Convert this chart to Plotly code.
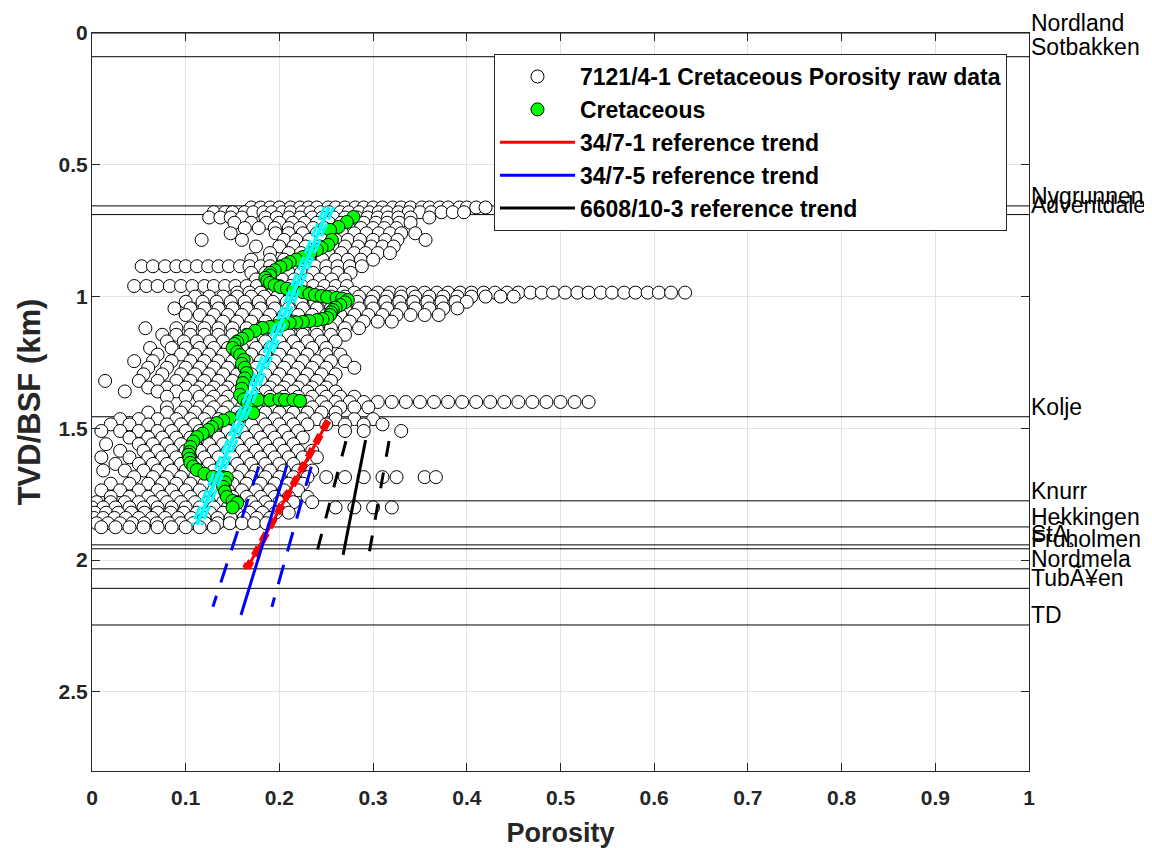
import plotly.graph_objects as go

# formation tops (km below sea floor)
tops_depth = [0.0, 0.09, 0.656, 0.689, 1.456, 1.775, 1.874, 1.942, 1.957, 2.033, 2.107, 2.246]
tops_name = ["Nordland", "Sotbakken", "Nygrunnen", "Adventdalen", "Kolje", "Knurr",
             "Hekkingen", "StÃ¸", "Fruholmen", "Nordmela", "TubÃ¥en", "TD"]

# raw porosity data, read row by row off the log (depth -> porosity values)
raw_depth_rows = [0.662, 0.68, 0.70, 0.72, 0.74, 0.76, 0.785, 0.81, 0.835, 0.86,
                  0.885, 0.91, 0.935, 0.96, 0.985, 1.0, 1.02, 1.045, 1.07, 1.095,
                  1.12, 1.145, 1.17, 1.195, 1.22, 1.245, 1.27, 1.295, 1.32, 1.345,
                  1.36, 1.38, 1.40, 1.42, 1.44, 1.465, 1.485, 1.51, 1.535, 1.56,
                  1.585, 1.61, 1.635, 1.66, 1.685, 1.71, 1.735, 1.76, 1.78, 1.80,
                  1.82, 1.84, 1.86, 1.875]
raw_poro_rows = [
    [0.17, 0.18, 0.19, 0.2, 0.212, 0.222, 0.231, 0.24, 0.252, 0.26, 0.27, 0.281, 0.29, 0.3, 0.31,
     0.321, 0.33, 0.34, 0.352, 0.36, 0.371, 0.38, 0.392, 0.4, 0.41, 0.42],
    [0.13, 0.142, 0.15, 0.163, 0.172, 0.183, 0.192, 0.203, 0.212, 0.224, 0.233, 0.244, 0.253,
     0.265, 0.274, 0.285, 0.296, 0.306, 0.315, 0.327, 0.338, 0.35, 0.362, 0.373, 0.385, 0.397],
    [0.125, 0.137, 0.148, 0.16, 0.185, 0.197, 0.21, 0.222, 0.235, 0.246, 0.258, 0.27, 0.283,
     0.294, 0.305, 0.316, 0.327, 0.34, 0.36],
    [0.152, 0.17, 0.186, 0.2, 0.214, 0.227, 0.24, 0.253, 0.266, 0.279, 0.29, 0.303, 0.315, 0.328, 0.34],
    [0.163, 0.178, 0.195, 0.21, 0.222, 0.236, 0.248, 0.262, 0.274, 0.287, 0.3, 0.312, 0.325],
    [0.148, 0.196, 0.21, 0.225, 0.24, 0.253, 0.267, 0.28, 0.293, 0.306, 0.318, 0.33, 0.345],
    [0.117, 0.16, 0.205, 0.218, 0.232, 0.246, 0.26, 0.273, 0.286, 0.3, 0.313, 0.326, 0.356],
    [0.175, 0.2, 0.215, 0.228, 0.243, 0.257, 0.27, 0.284, 0.298, 0.31, 0.322],
    [0.19, 0.21, 0.223, 0.238, 0.252, 0.266, 0.28, 0.292, 0.305, 0.318],
    [0.17, 0.19, 0.205, 0.218, 0.232, 0.246, 0.26, 0.273, 0.287, 0.3],
    [0.053, 0.065, 0.078, 0.09, 0.1, 0.112, 0.124, 0.135, 0.146, 0.158, 0.168, 0.18, 0.19, 0.202,
     0.214, 0.226, 0.238, 0.25, 0.262, 0.275, 0.288],
    [0.17, 0.185, 0.198, 0.21, 0.223, 0.236, 0.25, 0.262, 0.276],
    [0.175, 0.19, 0.203, 0.216, 0.23, 0.243, 0.256, 0.27],
    [0.045, 0.058, 0.07, 0.083, 0.095, 0.107, 0.12, 0.13, 0.142, 0.153, 0.165, 0.176, 0.188, 0.2,
     0.212, 0.224, 0.236, 0.248, 0.26, 0.272],
    [0.155, 0.168, 0.18, 0.193, 0.205, 0.218, 0.23, 0.243, 0.256, 0.268, 0.28, 0.292, 0.305, 0.318,
     0.33, 0.342, 0.355, 0.368, 0.38, 0.393, 0.405, 0.418, 0.43, 0.443, 0.455, 0.468, 0.48, 0.492,
     0.505, 0.518, 0.53, 0.543, 0.555, 0.568, 0.58, 0.593, 0.605, 0.618, 0.633],
    [0.11, 0.125, 0.14, 0.155, 0.17, 0.184, 0.198, 0.212, 0.226, 0.24, 0.255, 0.27, 0.285, 0.3,
     0.315, 0.33, 0.345, 0.36, 0.375, 0.39, 0.405, 0.42, 0.436, 0.45],
    [0.1, 0.118, 0.133, 0.148, 0.163, 0.178, 0.193, 0.208, 0.223, 0.238, 0.253, 0.268, 0.283, 0.298,
     0.313, 0.328, 0.343, 0.358, 0.373, 0.388, 0.4],
    [0.088, 0.105, 0.12, 0.135, 0.15, 0.165, 0.18, 0.195, 0.21, 0.225, 0.24, 0.255, 0.27, 0.285,
     0.3, 0.315, 0.33, 0.345, 0.36, 0.375, 0.39],
    [0.1, 0.115, 0.13, 0.145, 0.16, 0.175, 0.19, 0.205, 0.22, 0.235, 0.25, 0.265, 0.28, 0.295,
     0.31, 0.325, 0.34, 0.355, 0.37],
    [0.125, 0.14, 0.155, 0.17, 0.185, 0.2, 0.215, 0.23, 0.245, 0.26, 0.275, 0.29, 0.305, 0.32],
    [0.057, 0.09, 0.105, 0.12, 0.135, 0.15, 0.165, 0.18, 0.195, 0.21, 0.225, 0.24, 0.255, 0.27, 0.285],
    [0.075, 0.09, 0.105, 0.12, 0.135, 0.15, 0.165, 0.18, 0.195, 0.21, 0.225, 0.24, 0.255, 0.27],
    [0.08, 0.098, 0.112, 0.126, 0.14, 0.155, 0.17, 0.185, 0.2, 0.215, 0.23, 0.245, 0.26],
    [0.062, 0.085, 0.1, 0.115, 0.13, 0.145, 0.16, 0.175, 0.19, 0.205, 0.22, 0.235, 0.25],
    [0.07, 0.095, 0.11, 0.125, 0.14, 0.155, 0.17, 0.185, 0.2, 0.215, 0.23, 0.25, 0.265],
    [0.045, 0.065, 0.085, 0.105, 0.12, 0.135, 0.15, 0.165, 0.18, 0.195, 0.21, 0.225, 0.24, 0.255, 0.27],
    [0.06, 0.08, 0.1, 0.115, 0.13, 0.145, 0.16, 0.175, 0.19, 0.205, 0.22, 0.235, 0.25, 0.28],
    [0.055, 0.075, 0.095, 0.11, 0.125, 0.14, 0.155, 0.17, 0.185, 0.2, 0.215, 0.23, 0.245, 0.26],
    [0.014, 0.05, 0.07, 0.09, 0.105, 0.12, 0.135, 0.15, 0.165, 0.18, 0.195, 0.21, 0.225, 0.24, 0.255],
    [0.06, 0.08, 0.1, 0.115, 0.13, 0.145, 0.16, 0.175, 0.19, 0.205, 0.22, 0.235, 0.25],
    [0.035, 0.07, 0.09, 0.11, 0.125, 0.14, 0.155, 0.17, 0.185, 0.2, 0.215, 0.23, 0.245, 0.26],
    [0.08, 0.1, 0.115, 0.13, 0.145, 0.16, 0.175, 0.19, 0.205, 0.22, 0.235, 0.25, 0.265, 0.28],
    [0.125, 0.14, 0.155, 0.17, 0.185, 0.2, 0.215, 0.23, 0.245, 0.26, 0.275, 0.29, 0.305, 0.32,
     0.335, 0.35, 0.365, 0.38, 0.395, 0.41, 0.425, 0.44, 0.455, 0.47, 0.485, 0.5, 0.515, 0.53],
    [0.08, 0.1, 0.115, 0.13, 0.145, 0.16, 0.175, 0.19, 0.205, 0.22, 0.235, 0.25, 0.265, 0.28, 0.295],
    [0.06, 0.08, 0.095, 0.11, 0.125, 0.14, 0.155, 0.17, 0.185, 0.2, 0.215, 0.23, 0.245, 0.26],
    [0.03, 0.05, 0.07, 0.09, 0.105, 0.12, 0.135, 0.15, 0.165, 0.18, 0.195, 0.21, 0.225, 0.24,
     0.26, 0.28, 0.3],
    [0.02, 0.04, 0.06, 0.08, 0.095, 0.11, 0.125, 0.14, 0.155, 0.17, 0.185, 0.2, 0.215, 0.23,
     0.25, 0.27, 0.29, 0.31],
    [0.01, 0.03, 0.05, 0.07, 0.085, 0.1, 0.115, 0.13, 0.145, 0.16, 0.175, 0.19, 0.205, 0.22,
     0.27, 0.29, 0.33],
    [0.04, 0.06, 0.075, 0.09, 0.105, 0.12, 0.135, 0.15, 0.165, 0.18, 0.195, 0.21, 0.225],
    [0.015, 0.05, 0.065, 0.08, 0.095, 0.11, 0.125, 0.14, 0.155, 0.17, 0.185, 0.2, 0.215],
    [0.03, 0.055, 0.07, 0.085, 0.1, 0.115, 0.13, 0.145, 0.16, 0.175, 0.19, 0.205, 0.22, 0.235],
    [0.01, 0.04, 0.06, 0.075, 0.09, 0.105, 0.12, 0.135, 0.15, 0.165, 0.18, 0.195, 0.21, 0.225, 0.24],
    [0.025, 0.05, 0.065, 0.08, 0.095, 0.11, 0.125, 0.14, 0.155, 0.17, 0.185, 0.2, 0.215],
    [0.012, 0.035, 0.055, 0.07, 0.085, 0.1, 0.115, 0.13, 0.145, 0.16, 0.175, 0.19, 0.205, 0.22, 0.235],
    [0.045, 0.065, 0.08, 0.095, 0.11, 0.125, 0.14, 0.155, 0.17, 0.185, 0.2, 0.215, 0.23, 0.25,
     0.27, 0.29, 0.31, 0.325, 0.355, 0.367],
    [0.02, 0.04, 0.06, 0.075, 0.09, 0.105, 0.12, 0.135, 0.15, 0.165, 0.18, 0.195, 0.21, 0.225],
    [0.01, 0.03, 0.05, 0.07, 0.085, 0.1, 0.115, 0.13, 0.145, 0.16, 0.175, 0.19, 0.205, 0.22],
    [0.02, 0.04, 0.06, 0.075, 0.09, 0.105, 0.12, 0.135, 0.15, 0.165, 0.18, 0.195, 0.21, 0.23],
    [0.005, 0.02, 0.035, 0.05, 0.065, 0.08, 0.095, 0.11, 0.125, 0.14, 0.155, 0.17, 0.185, 0.2,
     0.215, 0.235],
    [0.0, 0.012, 0.025, 0.04, 0.055, 0.07, 0.085, 0.1, 0.115, 0.13, 0.145, 0.16, 0.175, 0.19,
     0.205, 0.26, 0.28, 0.3, 0.32],
    [0.003, 0.015, 0.028, 0.042, 0.056, 0.07, 0.084, 0.098, 0.112, 0.126, 0.14, 0.154, 0.168,
     0.182, 0.196, 0.21],
    [0.002, 0.012, 0.024, 0.036, 0.05, 0.064, 0.078, 0.092, 0.106, 0.12, 0.134, 0.148, 0.162,
     0.176, 0.19],
    [0.005, 0.017, 0.03, 0.043, 0.056, 0.069, 0.082, 0.095, 0.108, 0.121, 0.134, 0.147, 0.16,
     0.173, 0.186],
    [0.01, 0.025, 0.04, 0.055, 0.07, 0.085, 0.1, 0.115, 0.13],
]

# Cretaceous (green) samples
green_poro = [0.279, 0.272, 0.263, 0.254, 0.256, 0.252, 0.245, 0.240, 0.233, 0.225, 0.218, 0.211,
              0.207, 0.201, 0.195, 0.190, 0.190, 0.185, 0.187, 0.190, 0.195, 0.201, 0.208, 0.215,
              0.225, 0.232, 0.238, 0.245, 0.251, 0.261, 0.267, 0.273, 0.270, 0.265, 0.260, 0.257,
              0.255, 0.254, 0.251, 0.246, 0.240, 0.232, 0.225, 0.218, 0.211, 0.204, 0.197, 0.190,
              0.182, 0.174, 0.166, 0.160, 0.155, 0.152, 0.150, 0.155, 0.158, 0.162, 0.160, 0.163,
              0.165, 0.163, 0.161, 0.160, 0.158, 0.162, 0.166, 0.170, 0.177, 0.190, 0.200, 0.206,
              0.215, 0.222, 0.172, 0.160, 0.147, 0.140, 0.133, 0.128, 0.124, 0.118, 0.112, 0.108,
              0.105, 0.104, 0.103, 0.104, 0.105, 0.108, 0.112, 0.120, 0.129, 0.137, 0.144, 0.142,
              0.140, 0.142, 0.144, 0.150, 0.155, 0.150]
green_depth = [0.698, 0.717, 0.736, 0.747, 0.785, 0.804, 0.815, 0.823, 0.835, 0.850, 0.860, 0.869,
               0.878, 0.888, 0.900, 0.910, 0.920, 0.929, 0.940, 0.948, 0.957, 0.964, 0.970, 0.975,
               0.983, 0.990, 0.994, 0.998, 1.002, 1.005, 1.008, 1.013, 1.022, 1.032, 1.042, 1.051,
               1.060, 1.070, 1.081, 1.085, 1.089, 1.093, 1.096, 1.098, 1.100, 1.106, 1.112, 1.115,
               1.119, 1.130, 1.146, 1.160, 1.172, 1.180, 1.195, 1.210, 1.222, 1.240, 1.255, 1.270,
               1.290, 1.310, 1.328, 1.350, 1.373, 1.390, 1.404, 1.410, 1.392, 1.392, 1.390, 1.392,
               1.392, 1.396, 1.442, 1.450, 1.461, 1.470, 1.480, 1.495, 1.506, 1.520, 1.533, 1.550,
               1.571, 1.590, 1.600, 1.615, 1.631, 1.645, 1.658, 1.672, 1.684, 1.686, 1.688, 1.705,
               1.722, 1.740, 1.760, 1.775, 1.783, 1.800]

# reference trends (porosity, depth) end points
cyan_poro = [0.253, 0.112]
cyan_depth = [0.66, 1.866]
red_poro = [0.252, 0.167, 0.161]
red_depth = [1.471, 2.022, 2.022]
blue_poro = [0.208, 0.159]
blue_depth = [1.64, 2.208]
blue_lo_poro = [0.178, 0.129]
blue_hi_poro = [0.234, 0.192]
blue_band_depth = [1.645, 2.177]
black_poro = [0.292, 0.268]
black_depth = [1.544, 1.98]
black_lo_poro = [0.271, 0.240]
black_hi_poro = [0.317, 0.296]
black_band_depth = [1.548, 1.97]

raw_x = [p for row in raw_poro_rows for p in row]
raw_y = [d for d, row in zip(raw_depth_rows, raw_poro_rows) for _ in row]

FONT = "Liberation Sans, Arial, Helvetica, sans-serif"

fig = go.Figure()

# formation tops as thin horizontal lines
for d in tops_depth:
    fig.add_trace(go.Scatter(x=[0, 1], y=[d, d], mode="lines", line=dict(color="black", width=1),
                             showlegend=False, hoverinfo="skip"))

fig.add_trace(go.Scatter(x=raw_x, y=raw_y, mode="markers", name="7121/4-1 Cretaceous Porosity raw data",
                         marker=dict(size=13, color="white", line=dict(color="black", width=1))))
fig.add_trace(go.Scatter(x=green_poro, y=green_depth, mode="markers", name="Cretaceous",
                         marker=dict(size=13, color="#00ff00", line=dict(color="black", width=1))))

# cyan trend: centre line plus two dashed companions
fig.add_trace(go.Scatter(x=cyan_poro, y=cyan_depth, mode="lines", showlegend=False,
                         line=dict(color="cyan", width=4)))
for off in (-0.005, 0.005):
    fig.add_trace(go.Scatter(x=[p + off for p in cyan_poro], y=cyan_depth, mode="lines", showlegend=False,
                             line=dict(color="cyan", width=3, dash="14px,4px")))

fig.add_trace(go.Scatter(x=red_poro, y=red_depth, mode="lines", name="34/7-1 reference trend",
                         line=dict(color="red", width=3)))
fig.add_trace(go.Scatter(x=red_poro, y=red_depth, mode="lines", showlegend=False,
                         line=dict(color="red", width=7, dash="10px,6px")))

fig.add_trace(go.Scatter(x=blue_poro, y=blue_depth, mode="lines", name="34/7-5 reference trend",
                         line=dict(color="blue", width=3)))
for xs in (blue_lo_poro, blue_hi_poro):
    fig.add_trace(go.Scatter(x=xs, y=blue_band_depth, mode="lines", showlegend=False,
                             line=dict(color="blue", width=3, dash="20px,14px")))

fig.add_trace(go.Scatter(x=black_poro, y=black_depth, mode="lines", name="6608/10-3 reference trend",
                         line=dict(color="black", width=3)))
for xs in (black_lo_poro, black_hi_poro):
    fig.add_trace(go.Scatter(x=xs, y=black_band_depth, mode="lines", showlegend=False,
                             line=dict(color="black", width=3, dash="16px,16px")))

# formation names just right of the axes
for d, name in zip(tops_depth, tops_name):
    fig.add_annotation(x=1, y=d, xref="x", yref="y", text=name, showarrow=False,
                       xanchor="left", yanchor="middle", xshift=0, yshift=10,
                       font=dict(family=FONT, size=23, color="black"))

axis_common = dict(showline=True, linecolor="#262626", linewidth=1, mirror="ticks",
                   ticks="inside", ticklen=8, tickcolor="#262626", automargin=False,
                   showgrid=True, gridcolor="#e3e3e3", gridwidth=1, zeroline=False,
                   tickfont=dict(family=FONT, size=21, color="#262626", weight="bold"))

# the page body adds an 8 px margin, so the figure is 8 px smaller and shifted
fig.update_layout(
    width=1144, height=840,
    margin=dict(l=84, r=123, t=25, b=77),
    plot_bgcolor="white", paper_bgcolor="white",
    xaxis=dict(range=[0, 1], tickvals=[0, 0.1, 0.2, 0.3, 0.4, 0.5, 0.6, 0.7, 0.8, 0.9, 1],
               ticktext=["0", "0.1", "0.2", "0.3", "0.4", "0.5", "0.6", "0.7", "0.8", "0.9", "1"],
               ticklabelstandoff=8,
               title=dict(text="Porosity", standoff=24,
                          font=dict(family=FONT, size=27, color="#262626", weight="bold")),
               **axis_common),
    yaxis=dict(range=[2.8, 0], tickvals=[0, 0.5, 1, 1.5, 2, 2.5],
               ticktext=["0", "0.5", "1", "1.5", "2", "2.5"],
               ticklabelstandoff=-1,
               title=dict(text="TVD/BSF (km)", standoff=8,
                          font=dict(family=FONT, size=31, color="#262626", weight="bold")),
               **axis_common),
    legend=dict(x=0.9765, y=0.9715, xanchor="right", yanchor="top",
                bgcolor="white", bordercolor="#262626", borderwidth=1,
                itemwidth=75, tracegroupgap=0,
                font=dict(family=FONT, size=23, color="black", weight="bold")),
)

fig.write_html("out.html")
